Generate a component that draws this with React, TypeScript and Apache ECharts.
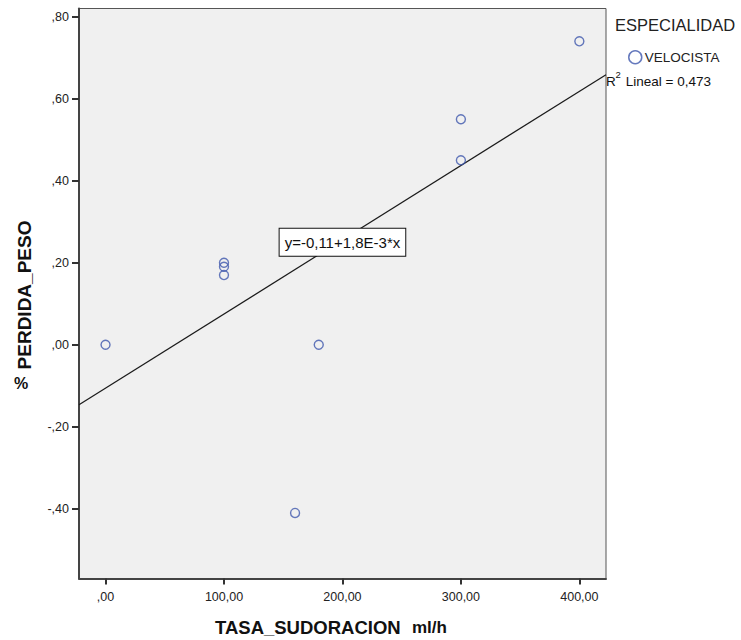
import React, { useEffect, useRef } from "react";
import * as echarts from "echarts";

// Data
const tasaSudoracion = [0, 100, 100, 100, 160, 180, 300, 300, 400];
const perdidaPeso = [0.0, 0.2, 0.19, 0.17, -0.41, 0.0, 0.55, 0.45, 0.74];
const xTicks = [0, 100, 200, 300, 400];
const yTicks = [-0.4, -0.2, 0.0, 0.2, 0.4, 0.6, 0.8];
const fitIntercept = -0.106;
const fitSlope = 0.00181;
const fitLabel = "y=-0,11+1,8E-3*x";
const r2Text = " Lineal = 0,473";
const legendTitle = "ESPECIALIDAD";
const seriesName = "VELOCISTA";

const X_MIN = -22.4;
const X_MAX = 422.5;
const Y_MIN = -0.57;
const Y_MAX = 0.82;

const FONT = "Arial, 'Liberation Sans', sans-serif";
const POINT_COLOR = "#3e58ac";

function fmt(v: number): string {
  let s = Math.abs(v).toFixed(2).replace(".", ",");
  if (s.startsWith("0,")) s = s.slice(1);
  return (v < -1e-9 ? "-" : "") + s;
}

export default function App() {
  const ref = useRef<HTMLDivElement>(null);

  useEffect(() => {
    document.body.style.margin = "0";
    if (!ref.current) return;
    const chart = echarts.init(ref.current, undefined, { renderer: "svg" });
    const points = tasaSudoracion.map((x, i) => [x, perdidaPeso[i]]);
    const fitLine = [
      [X_MIN, fitIntercept + fitSlope * X_MIN],
      [X_MAX, fitIntercept + fitSlope * X_MAX],
    ];
    chart.setOption({
      animation: false,
      backgroundColor: "#ffffff",
      grid: {
        left: 79,
        top: 8.5,
        right: 135,
        bottom: 61.5,
        show: true,
        backgroundColor: "#f0f0f0",
        borderColor: "#555",
        borderWidth: 1,
      },
      xAxis: {
        type: "value",
        min: X_MIN,
        max: X_MAX,
        splitLine: { show: false },
        axisLine: { show: true, onZero: false, lineStyle: { color: "#444", width: 2 } },
        axisTick: {
          show: true,
          length: 6,
          customValues: xTicks,
          lineStyle: { color: "#333", width: 2 },
        },
        axisLabel: {
          customValues: xTicks,
          formatter: (v: number) => fmt(v),
          fontFamily: FONT,
          fontSize: 12.5,
          color: "#222",
          margin: 12,
        },
      },
      yAxis: {
        type: "value",
        min: Y_MIN,
        max: Y_MAX,
        splitLine: { show: false },
        axisLine: { show: true, onZero: false, lineStyle: { color: "#444", width: 2 } },
        axisTick: {
          show: true,
          length: 7,
          customValues: yTicks,
          lineStyle: { color: "#333", width: 2 },
        },
        axisLabel: {
          customValues: yTicks,
          formatter: (v: number) => fmt(v),
          fontFamily: FONT,
          fontSize: 12.5,
          color: "#222",
          margin: 10,
        },
      },
      legend: {
        show: true,
        left: 623,
        top: 45,
        icon: "circle",
        itemWidth: 13,
        itemHeight: 13,
        textStyle: { fontFamily: FONT, fontSize: 13.5, color: "#222", padding: [0, 0, 0, -2] },
        data: [
          {
            name: seriesName,
            itemStyle: { color: "rgba(0,0,0,0)", borderColor: POINT_COLOR, borderWidth: 1.5 },
          },
        ],
      },
      series: [
        {
          name: seriesName,
          type: "scatter",
          symbol: "circle",
          symbolSize: 9,
          itemStyle: { color: "rgba(0,0,0,0)", borderColor: POINT_COLOR, borderWidth: 1.4 },
          data: points,
          z: 3,
        },
        {
          name: "fit",
          type: "line",
          data: fitLine,
          showSymbol: false,
          symbol: "none",
          lineStyle: { color: "#1a1a1a", width: 1.2 },
          z: 2,
          markPoint: {
            symbol: "rect",
            symbolSize: 0,
            data: [{ coord: [200, 0.25] }],
            label: {
              show: true,
              position: "inside",
              formatter: fitLabel,
              fontFamily: FONT,
              fontSize: 15,
              color: "#111",
              backgroundColor: "#ffffff",
              borderColor: "#111",
              borderWidth: 1,
              padding: [7, 5, 5, 5],
            },
          },
        },
      ],
      graphic: [
        {
          type: "text",
          x: 615,
          y: 25,
          style: {
            text: legendTitle,
            font: `16.5px ${FONT}`,
            fill: "#222",
            verticalAlign: "middle",
          },
        },
        {
          type: "text",
          x: 606,
          y: 81,
          style: { text: "R", font: `13.5px ${FONT}`, fill: "#111", verticalAlign: "middle" },
        },
        {
          type: "text",
          x: 615.5,
          y: 74,
          style: { text: "2", font: `9.5px ${FONT}`, fill: "#111", verticalAlign: "middle" },
        },
        {
          type: "text",
          x: 622,
          y: 81,
          style: { text: r2Text, font: `13.5px ${FONT}`, fill: "#111", verticalAlign: "middle" },
        },
        {
          type: "text",
          x: 215,
          y: 627,
          style: {
            text: "TASA_SUDORACION",
            font: `bold 18.5px ${FONT}`,
            fill: "#111",
            verticalAlign: "middle",
          },
        },
        {
          type: "text",
          x: 412,
          y: 627,
          style: {
            text: "ml/h",
            font: `bold 17px ${FONT}`,
            fill: "#111",
            verticalAlign: "middle",
          },
        },
        {
          type: "text",
          x: 24,
          y: 295,
          rotation: Math.PI / 2,
          style: {
            text: "PERDIDA_PESO",
            font: `bold 19px ${FONT}`,
            fill: "#111",
            align: "center",
            verticalAlign: "middle",
          },
        },
        {
          type: "text",
          x: 21,
          y: 383,
          style: {
            text: "%",
            font: `bold 16px ${FONT}`,
            fill: "#111",
            align: "center",
            verticalAlign: "middle",
          },
        },
      ],
    });
    return () => chart.dispose();
  }, []);

  return <div ref={ref} style={{ width: 741, height: 640 }} />;
}
